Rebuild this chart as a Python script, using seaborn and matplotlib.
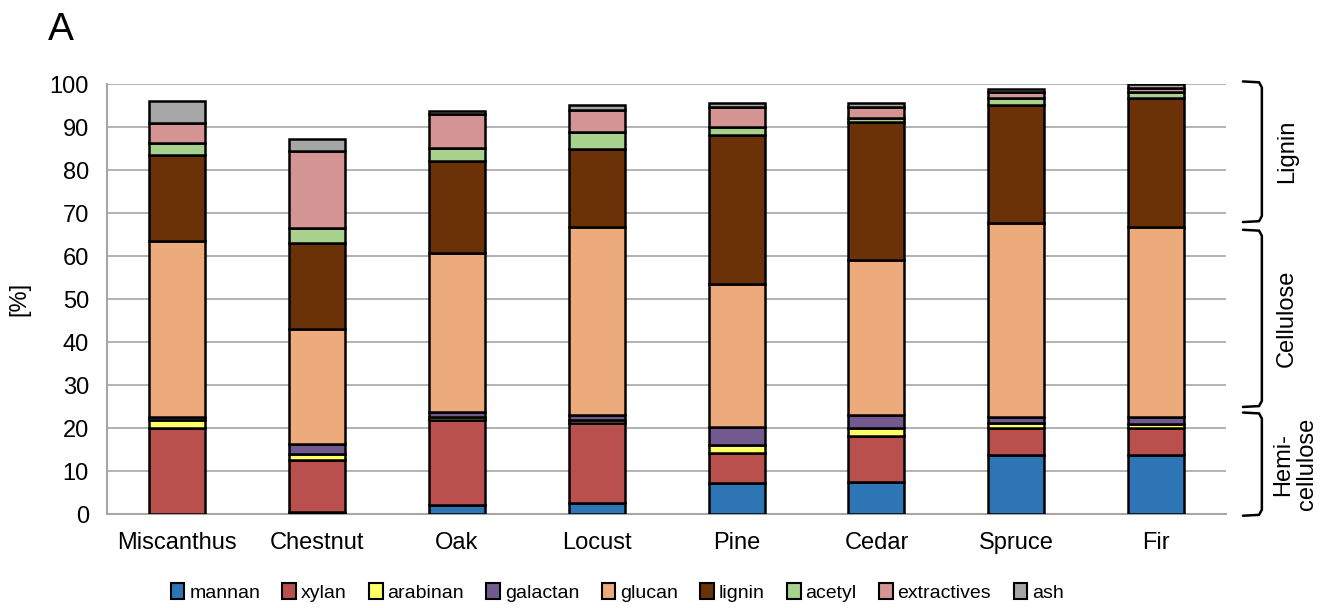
import numpy as np
import pandas as pd
import matplotlib.pyplot as plt
import seaborn as sns
from matplotlib.patches import Patch

species = ["Miscanthus", "Chestnut", "Oak", "Locust", "Pine", "Cedar", "Spruce", "Fir"]
components = ["mannan", "xylan", "arabinan", "galactan", "glucan", "lignin", "acetyl", "extractives", "ash"]

mannan = [0.0, 0.5, 2.1, 2.5, 7.1, 7.4, 13.7, 13.7]
xylan = [20.0, 12.1, 19.8, 18.6, 7.0, 10.7, 6.2, 6.2]
arabinan = [1.9, 1.4, 0.7, 0.8, 1.9, 1.8, 1.3, 1.0]
galactan = [0.7, 2.2, 1.2, 1.1, 4.3, 3.1, 1.4, 1.6]
glucan = [40.9, 26.8, 37.0, 43.8, 33.2, 36.1, 45.0, 44.3]
lignin = [20.0, 20.0, 21.3, 18.2, 34.6, 32.1, 27.5, 29.9]
acetyl = [2.7, 3.5, 3.1, 3.8, 2.0, 0.8, 1.6, 1.4]
extractives = [4.8, 18.0, 7.8, 5.2, 4.6, 2.7, 1.5, 0.9]
ash = [5.0, 2.6, 0.7, 1.1, 0.8, 0.8, 0.6, 1.0]

colors = ["#2E75B6", "#B9504E", "#FFFF66", "#725A90", "#EDAA7B",
          "#6B3107", "#A9D18E", "#D49494", "#A6A6A6"]

df = pd.DataFrame({"species": species, "mannan": mannan, "xylan": xylan,
                   "arabinan": arabinan, "galactan": galactan, "glucan": glucan,
                   "lignin": lignin, "acetyl": acetyl, "extractives": extractives,
                   "ash": ash})

sns.set_style("white")
plt.rcParams["font.family"] = ["Liberation Sans", "DejaVu Sans"]
plt.rcParams["text.color"] = "black"
plt.rcParams["axes.labelcolor"] = "black"

fig = plt.figure(figsize=(13.36, 6.08), dpi=100)
ax = fig.add_axes([0.0801, 0.1546, 0.8377, 0.7072])

bottom = np.zeros(len(species))
for comp, col in zip(components, colors):
    sns.barplot(data=df, x="species", y=comp, bottom=bottom, color=col,
                width=0.4, edgecolor="black", linewidth=1.8, errorbar=None,
                saturation=1, ax=ax, zorder=3)
    bottom = bottom + df[comp].values

ax.set_xlim(-0.5, 7.5)
ax.set_ylim(0, 100)
ax.set_yticks(range(0, 101, 10))
ax.grid(axis="y", color="#A6A6A6", linewidth=1.2, zorder=0)
ax.set_axisbelow(True)
for s in ["top", "right"]:
    ax.spines[s].set_visible(False)
for s in ["left", "bottom"]:
    ax.spines[s].set_color("#A6A6A6")
    ax.spines[s].set_linewidth(1.5)
ax.set_xticks(np.arange(-0.5, 8, 1), minor=True)
ax.tick_params(axis="both", colors="#A6A6A6", labelcolor="black")
ax.tick_params(axis="x", which="major", length=0, labelsize=17, pad=13)
ax.tick_params(axis="x", which="minor", length=6, color="#A6A6A6", width=1.5, direction="out")
ax.tick_params(axis="y", length=5, color="#A6A6A6", width=1.5, labelsize=17, pad=8)
ax.set_xlabel("")
ax.set_ylabel("[%]", fontsize=17, labelpad=14)

# brackets on the right side
groups = [(100, 68.5, "Lignin", 0), (65.5, 25.5, "Cellulose", 0), (23.0, 0.2, "Hemi-\ncellulose", 0.06)]
x0, x1 = 7.62, 7.755
for top, bot, name, dx in groups:
    ax.plot([x0, x1 - 0.02, x1, x1, x1 - 0.02, x0],
            [top + 0.6, top + 0.4, top - 0.8, bot + 0.8, bot - 0.4, bot - 0.6],
            color="black", linewidth=1.8, clip_on=False)
    ax.text(x1 + 0.18 + dx, (top + bot) / 2, name, rotation=90, ha="center",
            va="center", fontsize=17, clip_on=False, linespacing=1.1)

handles = [Patch(facecolor=c, edgecolor="black", linewidth=1.5) for c in colors]
fig.legend(handles, components, loc="center", bbox_to_anchor=(0.462, 0.026),
           ncol=9, frameon=False, handlelength=0.7, handleheight=0.9,
           handletextpad=0.25, columnspacing=1.15, prop={"size": 14})

fig.text(0.036, 0.95, "A", fontsize=28, va="center", ha="left")

fig.savefig("out.png", dpi=100)
